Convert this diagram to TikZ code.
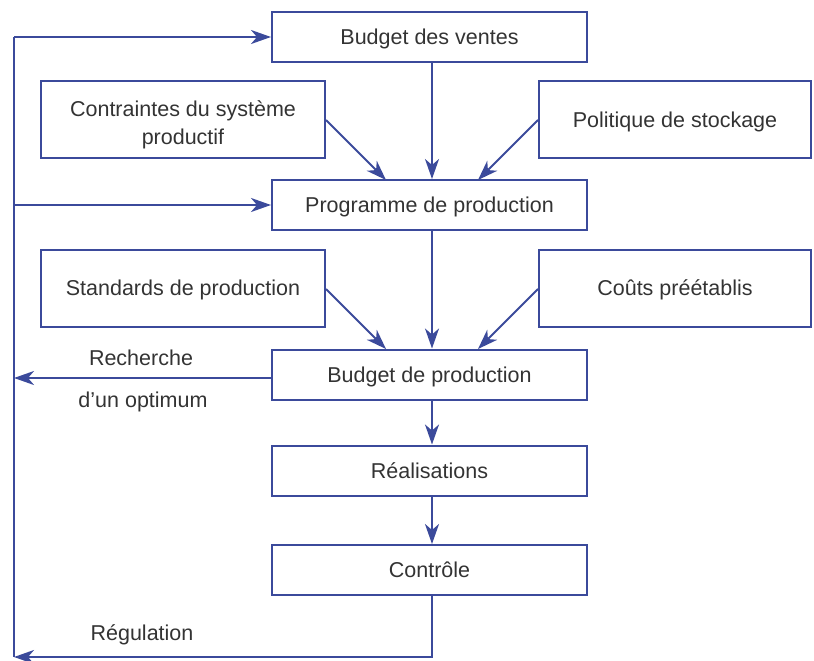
\documentclass[tikz,border=0pt]{standalone}
\usepackage{fontspec}
\setmainfont{Liberation Sans}
\usetikzlibrary{arrows.meta}
\definecolor{flowblue}{HTML}{3B4A9B}
\definecolor{labelgray}{HTML}{333333}
\begin{document}
\begin{tikzpicture}[x=1pt,y=-1pt,
  box/.style={draw=flowblue, line width=2pt, minimum width=315pt, minimum height=50pt,
    inner sep=0pt, text=labelgray, font=\fontsize{21.5}{28}\selectfont, align=center,
    text height=19.4pt, text depth=4pt},
  sidebox/.style={box, minimum width=284pt, minimum height=77pt},
  link/.style={draw=flowblue, line width=2pt, -{Stealth[length=20pt,width=14pt,inset=6pt]}},
  plain/.style={draw=flowblue, line width=2pt},
  lbl/.style={text=labelgray, font=\fontsize{21.5}{27}\selectfont}]
\useasboundingbox (0,0) rectangle (814,661);

% main column
\node[box] (ventes) at (429.5,37) {Budget des ventes};
\node[box] (programme) at (429.5,205) {Programme de production};
\node[box] (budget) at (429.5,374.5) {Budget de production};
\node[box] (real) at (429.5,470.5) {Réalisations};
\node[box] (controle) at (429.5,570) {Contrôle};

% side inputs
\node[sidebox, text height=53pt] (contraintes) at (183,119.5) {Contraintes du système\\productif};
\node[sidebox, minimum width=272pt] (politique) at (675,119.5) {Politique de stockage};
\node[sidebox] (standards) at (183,288) {Standards de production};
\node[sidebox, minimum width=272pt] (couts) at (675,288) {Coûts préétablis};

% arrow entry points on the box tops
\coordinate (stem) at (432,0);
\coordinate (progL) at (386,180);
\coordinate (progR) at (478,180);
\coordinate (budL) at (386,349);
\coordinate (budR) at (478,349);

\draw[link] (ventes.south -| stem) -- (programme.north -| stem);
\draw[link] (contraintes.east |- 0,120) -- (progL);
\draw[link] (politique.west |- 0,120) -- (progR);
\draw[link] (programme.south -| stem) -- (budget.north -| stem);
\draw[link] (standards.east |- 0,289) -- (budL);
\draw[link] (couts.west |- 0,289) -- (budR);
\draw[link] (budget.south -| stem) -- (real.north -| stem);
\draw[link] (real.south -| stem) -- (controle.north -| stem);

% feedback loop on the left
\coordinate (loopTop) at (14,37);
\coordinate (loopMid) at (14,205);
\coordinate (loopOpt) at (14,378);
\coordinate (loopBot) at (14,657);
\coordinate (ctrlBot) at (432,657);

\draw[plain] (loopTop) -- (loopBot);
\draw[link] (loopTop) -- (ventes.west);
\draw[link] (loopMid) -- (programme.west);
\draw[link] (budget.west |- loopOpt) -- (loopOpt);
\draw[link] (controle.south -| ctrlBot) -- (ctrlBot) -- (loopBot);

\node[lbl] (recherche) at (141,358) {Recherche};
\node[lbl] (optimum) at (143,402) {d’un optimum};
\node[lbl] (regulation) at (142,635) {Régulation};
\end{tikzpicture}
\end{document}
